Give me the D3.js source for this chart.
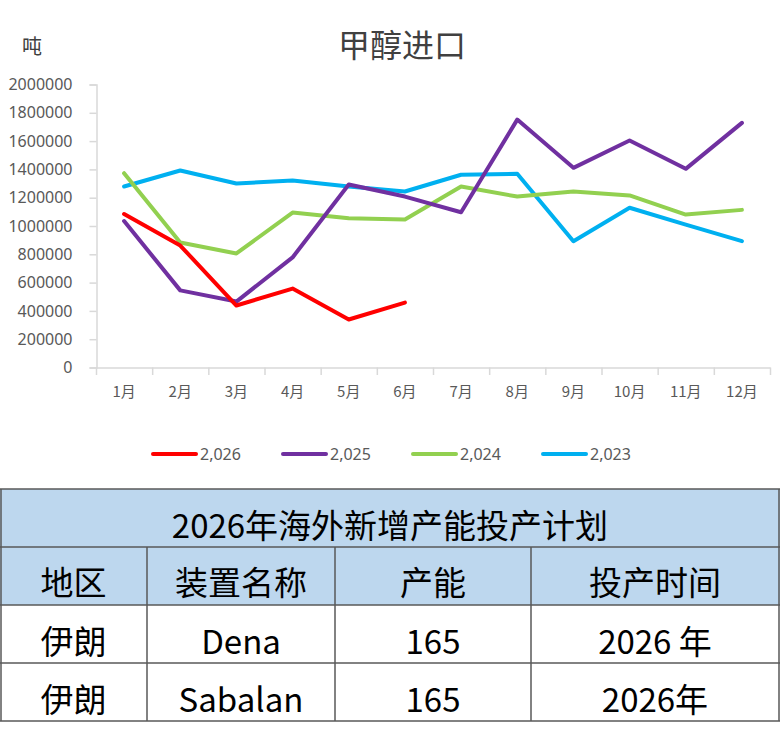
<!DOCTYPE html>
<html>
<head>
<meta charset="utf-8">
<script src="https://cdn.jsdelivr.net/npm/d3@7"></script>
<style>
  html, body { margin: 0; padding: 0; background: #fff; }
</style>
</head>
<body>
<script>
// months on the category axis
const months = ["1月", "2月", "3月", "4月", "5月", "6月", "7月", "8月", "9月", "10月", "11月", "12月"];
const yTicks = [0, 200000, 400000, 600000, 800000, 1000000, 1200000, 1400000, 1600000, 1800000, 2000000];

// monthly methanol imports, tonnes
const imports2026 = [1085000, 862000, 438000, 558000, 339000, 459000];
const imports2025 = [1035000, 545000, 466000, 778000, 1293000, 1208000, 1097000, 1752000, 1411000, 1604000, 1404000, 1729000];
const imports2024 = [1373000, 883000, 806000, 1095000, 1055000, 1046000, 1279000, 1208000, 1244000, 1216000, 1081000, 1114000];
const imports2023 = [1279000, 1392000, 1300000, 1322000, 1279000, 1244000, 1362000, 1369000, 892000, 1129000, 1010000, 893000];

const seriesNames = ["2,026", "2,025", "2,024", "2,023"];
const seriesValues = [imports2026, imports2025, imports2024, imports2023];
const seriesColors = ["#ff0000", "#7030a0", "#92d050", "#00b0f0"];

// table below the chart
const tableTitle = "2026年海外新增产能投产计划";
const tableHeader = ["地区", "装置名称", "产能", "投产时间"];
const tableRows = [
  ["伊朗", "Dena", "165", "2026 年"],
  ["伊朗", "Sabalan", "165", "2026年"]
];

const width = 780, height = 742;
const cjk = "'Noto Sans CJK SC', 'Noto Sans', sans-serif";

const svg = d3.select("body").append("svg")
  .attr("width", width)
  .attr("height", height)
  .style("font-family", cjk);

// scales
const x = d3.scaleBand().domain(months).range([96, 770]);
const y = d3.scaleLinear().domain([0, 2000000]).range([367.5, 84.5]);

// title and unit
svg.append("text")
  .attr("x", 402).attr("y", 57)
  .attr("text-anchor", "middle")
  .style("font-size", "32px")
  .style("fill", "#404040")
  .text("甲醇进口");

svg.append("text")
  .attr("x", 22).attr("y", 54)
  .style("font-size", "20px")
  .style("fill", "#404040")
  .text("吨");

// y axis
const yAxis = svg.append("g")
  .attr("transform", "translate(96.5,0)")
  .call(d3.axisLeft(y).tickValues(yTicks).tickSize(7).tickPadding(17).tickFormat(d3.format("d")));
yAxis.select(".domain").attr("stroke", "#d9d9d9").attr("stroke-width", 1.5);
yAxis.selectAll(".tick line").attr("stroke", "#d9d9d9").attr("stroke-width", 1.5);
yAxis.selectAll(".tick text")
  .style("font-family", "'Noto Sans', sans-serif")
  .style("font-size", "16px")
  .style("fill", "#595959");

// x axis
const xAxis = svg.append("g")
  .attr("transform", "translate(0,367.5)")
  .call(d3.axisBottom(x).tickSize(0).tickPadding(19));
xAxis.select(".domain").attr("stroke", "#d9d9d9").attr("stroke-width", 1.5);
xAxis.selectAll(".tick text")
  .style("font-family", cjk)
  .style("font-size", "15px")
  .style("fill", "#595959");

// tick marks between categories
const edges = months.map(m => x(m)).concat([x.range()[1]]);
svg.append("g").selectAll("line")
  .data(edges)
  .join("line")
  .attr("x1", d => d + 0.5).attr("x2", d => d + 0.5)
  .attr("y1", 367.5).attr("y2", 375)
  .attr("stroke", "#d9d9d9")
  .attr("stroke-width", 1.5);

// lines, oldest first so 2026 sits on top
const line = d3.line()
  .x((d, i) => x(months[i]) + x.bandwidth() / 2)
  .y(d => y(d));

const order = [3, 2, 1, 0];
svg.append("g").selectAll("path")
  .data(order)
  .join("path")
  .attr("d", k => line(seriesValues[k]))
  .attr("fill", "none")
  .attr("stroke", k => seriesColors[k])
  .attr("stroke-width", 4)
  .attr("stroke-linejoin", "round")
  .attr("stroke-linecap", "round");

// legend
const legend = svg.append("g").attr("transform", "translate(153,454)");
const item = legend.selectAll("g")
  .data(seriesNames)
  .join("g")
  .attr("transform", (d, i) => `translate(${i * 130},0)`);
item.append("line")
  .attr("x1", 0).attr("x2", 43)
  .attr("stroke", (d, i) => seriesColors[i])
  .attr("stroke-width", 4)
  .attr("stroke-linecap", "round");
item.append("text")
  .attr("x", 47).attr("y", 6)
  .style("font-family", "'Noto Sans', sans-serif")
  .style("font-size", "16px")
  .style("fill", "#595959")
  .text(d => d);

// table
const colEdges = [0, 147, 335, 531, 779];
const rowEdges = [489, 547, 605, 663, 721];
const table = svg.append("g");

table.append("rect")
  .attr("x", 0).attr("y", rowEdges[0])
  .attr("width", 780).attr("height", rowEdges[2] - rowEdges[0])
  .attr("fill", "#bdd7ee");

table.append("text")
  .attr("x", 390).attr("y", 538)
  .attr("text-anchor", "middle")
  .style("font-size", "33px")
  .style("fill", "#000")
  .text(tableTitle);

const cells = [tableHeader].concat(tableRows);
const rowBase = [595, 654, 712];
cells.forEach((row, r) => {
  row.forEach((txt, c) => {
    table.append("text")
      .attr("x", (colEdges[c] + colEdges[c + 1]) / 2)
      .attr("y", rowBase[r])
      .attr("text-anchor", "middle")
      .style("font-size", "33px")
      .style("fill", "#000")
      .text(txt);
  });
});

// grid lines
const gridColor = "#595959";
rowEdges.forEach(yy => {
  table.append("line")
    .attr("x1", 0).attr("x2", 780)
    .attr("y1", yy).attr("y2", yy)
    .attr("stroke", gridColor).attr("stroke-width", 1.5);
});
table.append("line")
  .attr("x1", 1).attr("x2", 1)
  .attr("y1", rowEdges[0]).attr("y2", rowEdges[4])
  .attr("stroke", gridColor).attr("stroke-width", 1.5);
table.append("line")
  .attr("x1", 779).attr("x2", 779)
  .attr("y1", rowEdges[0]).attr("y2", rowEdges[4])
  .attr("stroke", gridColor).attr("stroke-width", 1.5);
colEdges.slice(1, 4).forEach(xx => {
  table.append("line")
    .attr("x1", xx).attr("x2", xx)
    .attr("y1", rowEdges[1]).attr("y2", rowEdges[4])
    .attr("stroke", gridColor).attr("stroke-width", 1.5);
});
</script>
</body>
</html>
